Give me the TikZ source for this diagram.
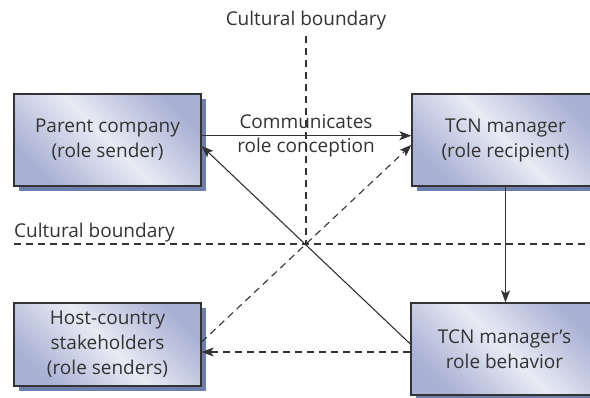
\documentclass[tikz,border=0pt]{standalone}
\usepackage{fontspec}
\setmainfont{Open Sans}
\usetikzlibrary{arrows.meta,shadows,calc}
\definecolor{txt}{HTML}{333333}
\definecolor{boxdark}{HTML}{A9B1D4}
\definecolor{boxlight}{HTML}{E8EAF4}
\definecolor{shad}{HTML}{6E7FAE}
\begin{document}
\begin{tikzpicture}[x=1pt,y=-1pt,
  rolebox/.style={draw=txt, line width=1.3pt, minimum width=187pt, minimum height=92pt,
    inner sep=0pt, align=center, text=txt, font=\fontsize{19}{25}\selectfont,
    top color=boxdark, bottom color=boxdark, middle color=boxlight, shading angle=-45,
    drop shadow={shadow xshift=5pt, shadow yshift=-5pt, fill=shad, opacity=1}},
  lbl/.style={text=txt, font=\fontsize{19}{24}\selectfont, inner sep=0pt},
  conn/.style={draw=txt, line width=1.1pt, -{Stealth[length=12pt,width=9pt,inset=3pt]}},
  dconn/.style={conn, dash pattern=on 7pt off 5pt},
  bound/.style={draw=txt, line width=1.1pt, dash pattern=on 7pt off 5pt}]
\useasboundingbox (0,0) rectangle (590,398);
\clip (0,0) rectangle (590,398);
\fill[white] (0,0) rectangle (590,398);
% boundaries
\coordinate (vtop) at (306,36);
\coordinate (cross) at (306,244);
\coordinate (hl) at (14,244);
\coordinate (hr) at (590,244);
\draw[bound] (vtop) -- (cross);
\draw[bound] (hl) -- (hr);
% boxes
\node[rolebox] (parent) at (107.5,140) {Parent company\\(role sender)};
\node[rolebox] (tcn) at (505.5,140) {TCN manager\\(role recipient)};
\node[rolebox, minimum height=83pt] (host) at (107.5,344.5) {Host-country\\stakeholders\\(role senders)};
\node[rolebox] (beh) at (504.5,349) {TCN manager’s\\role behavior};
% labels
\node[lbl, anchor=base] (toplbl) at (306,26) {Cultural boundary};
\node[lbl, anchor=base west] (leftlbl) at (14,237.5) {Cultural boundary};
\node[lbl, align=center] (comm) at (306,136) {Communicates\\role conception};
% connectors
\draw[conn] ($(parent.east)+(0,-4.3)$) -- ($(tcn.west)+(0,-4.3)$);
\draw[conn] ($(beh.west)+(0,-5)$) -- ($(parent.east)+(0,6)$);
\draw[dconn] ($(host.east)+(0,-2.5)$) -- ($(tcn.west)+(0,5)$);
\draw[dconn] ($(beh.west)+(0,3)$) coordinate (bw) -- (host.east |- bw);
\draw[conn] (tcn.south) -- (tcn.south |- beh.north);
\end{tikzpicture}
\end{document}
